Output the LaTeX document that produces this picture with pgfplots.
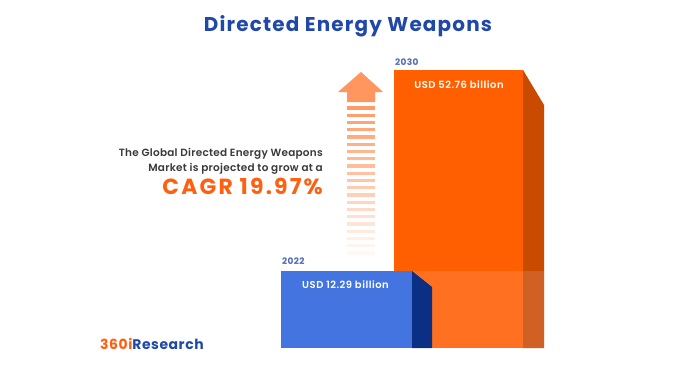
\documentclass[border=0pt]{standalone}
\usepackage{pgfplots}
\pgfplotsset{compat=1.18}
\usepackage{fontspec}
\setmainfont{Poppins}
\newfontfamily\popsb{Poppins SemiBold}
\newfontfamily\popsbw{Poppins SemiBold}[LetterSpace=5]
\newfontfamily\popsbp{Poppins SemiBold}[LetterSpace=2.5]
\newfontfamily\popbw{Poppins}[LetterSpace=6]
\newfontfamily\popbww{Poppins}[LetterSpace=10]
\newfontfamily\popbl{Poppins}[LetterSpace=4]
\definecolor{ttlblue}{RGB}{31,72,168}
\definecolor{orfront}{RGB}{255,95,0}
\definecolor{orside}{RGB}{200,75,0}
\definecolor{orfrontlow}{RGB}{255,112,32}
\definecolor{orsidelow}{RGB}{208,96,36}
\definecolor{blfront}{RGB}{68,116,224}
\definecolor{blside}{RGB}{10,47,133}
\definecolor{arrowc}{RGB}{255,150,95}
\definecolor{yearc}{RGB}{80,108,180}
\definecolor{para}{RGB}{58,58,58}
\definecolor{cagr}{RGB}{255,96,16}
\begin{document}
\begin{tikzpicture}
\begin{axis}[x=1bp, y=1bp, y dir=reverse, xmin=0, xmax=696, ymin=0, ymax=364,
  hide axis, clip=false]
% background
\addplot[fill=white, draw=none] coordinates {(0,0) (696,0) (696,364) (0,364)} -- cycle;
% 2030 bar (USD 52.76 billion)
\addplot[fill=orfront, draw=none] coordinates {(394,70) (523,70) (523,348) (394,348)} -- cycle;
\addplot[fill=orside, draw=none] coordinates {(523,70) (544,105) (544,348) (523,348)} -- cycle;
\addplot[fill=orfrontlow, draw=none] coordinates {(394,271) (523,271) (523,348) (394,348)} -- cycle;
\addplot[fill=orsidelow, draw=none] coordinates {(523,271) (544,271) (544,348) (523,348)} -- cycle;
% 2022 bar (USD 12.29 billion)
\addplot[fill=blfront, draw=none] coordinates {(281,271) (412,271) (412,348) (281,348)} -- cycle;
\addplot[fill=blside, draw=none] coordinates {(412,271) (432,287) (432,348) (412,348)} -- cycle;
% arrow head
\addplot[fill=arrowc, draw=none] coordinates {(361,72) (383,92) (375,92) (375,102) (347,102) (347,92) (338,92)} -- cycle;
% stripes
\addplot[arrowc!95!white, line width=3.2bp] coordinates {(347,108) (375,108)};
\addplot[arrowc!91!white, line width=3.2bp] coordinates {(347,115.25) (375,115.25)};
\addplot[arrowc!87!white, line width=3.2bp] coordinates {(347,122.5) (375,122.5)};
\addplot[arrowc!83!white, line width=3.2bp] coordinates {(347,129.75) (375,129.75)};
\addplot[arrowc!79!white, line width=3.2bp] coordinates {(347,137) (375,137)};
\addplot[arrowc!75!white, line width=3.2bp] coordinates {(347,144.25) (375,144.25)};
\addplot[arrowc!71!white, line width=3.2bp] coordinates {(347,151.5) (375,151.5)};
\addplot[arrowc!67!white, line width=3.2bp] coordinates {(347,158.75) (375,158.75)};
\addplot[arrowc!63!white, line width=3.2bp] coordinates {(347,166) (375,166)};
\addplot[arrowc!59!white, line width=3.2bp] coordinates {(347,173.25) (375,173.25)};
\addplot[arrowc!55!white, line width=3.2bp] coordinates {(347,180.5) (375,180.5)};
\addplot[arrowc!50!white, line width=3.2bp] coordinates {(347,187.75) (375,187.75)};
\addplot[arrowc!45!white, line width=3.2bp] coordinates {(347,195) (375,195)};
\addplot[arrowc!40!white, line width=3.2bp] coordinates {(347,202.25) (375,202.25)};
\addplot[arrowc!35!white, line width=3.2bp] coordinates {(347,209.5) (375,209.5)};
\addplot[arrowc!30!white, line width=3.2bp] coordinates {(347,216.75) (375,216.75)};
\addplot[arrowc!25!white, line width=3.2bp] coordinates {(347,224) (375,224)};
\addplot[arrowc!20!white, line width=3.2bp] coordinates {(347,231.25) (375,231.25)};
\addplot[arrowc!15!white, line width=3.2bp] coordinates {(347,238.5) (375,238.5)};
\addplot[arrowc!10!white, line width=3.2bp] coordinates {(347,245.75) (375,245.75)};
\addplot[arrowc!6!white, line width=3.2bp] coordinates {(347,253) (375,253)};
% texts
\node[anchor=base, inner sep=0pt, text=ttlblue, font=\fontsize{20}{22}\selectfont\popbw\bfseries] at (axis cs:348,31) {Directed Energy Weapons};
\node[anchor=base west, inner sep=0pt, text=yearc, font=\fontsize{9}{10}\selectfont\popbl\bfseries] at (axis cs:395,65) {2030};
\node[anchor=base, inner sep=0pt, text=white, font=\fontsize{10}{11}\selectfont\popsbw] at (axis cs:459,88) {USD 52.76 billion};
\node[anchor=base west, inner sep=0pt, text=yearc, font=\fontsize{9}{10}\selectfont\popbl\bfseries] at (axis cs:282,264) {2022};
\node[anchor=base, inner sep=0pt, text=white, font=\fontsize{10}{11}\selectfont\popsbw] at (axis cs:345.5,288) {USD 12.29 billion};
\node[anchor=base east, inner sep=0pt, text=para, font=\fontsize{10.5}{12}\selectfont\popsbp] at (axis cs:323,156) {The Global Directed Energy Weapons};
\node[anchor=base east, inner sep=0pt, text=para, font=\fontsize{10.5}{12}\selectfont\popsbp] at (axis cs:323,171) {Market is projected to grow at a};
\node[anchor=base east, inner sep=0pt, text=cagr, font=\fontsize{22}{24}\selectfont\popbww\bfseries] at (axis cs:323,194) {CAGR 19.97\%};
\node[anchor=base west, inner sep=0pt, font=\fontsize{14}{15}\selectfont\popbl\bfseries] at (axis cs:100,349) {\textcolor{cagr}{360i}\textcolor{ttlblue}{Research}};
\end{axis}
\end{tikzpicture}
\end{document}
